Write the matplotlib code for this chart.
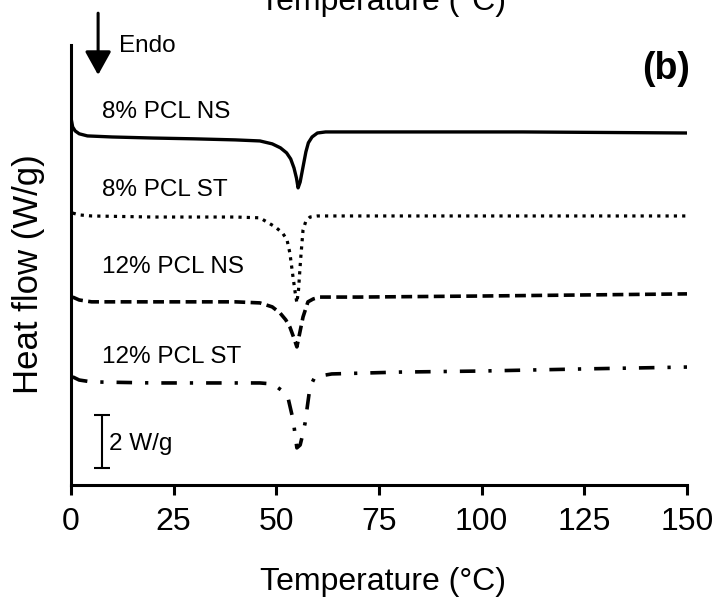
import numpy as np
import matplotlib.pyplot as plt

plt.rcParams['font.family'] = ['Liberation Sans', 'DejaVu Sans']

# DSC curves, heat flow in W/g (curves shifted vertically)
temp_ns8 = [0, 0.4, 1, 2, 4, 10, 20, 30, 40, 46, 49, 51, 52.5, 53.5, 54.3, 54.9,
            55.3, 55.8, 56.5, 57.2, 57.8, 58.7, 60, 62, 80, 110, 150]
flow_ns8 = [13.85, 13.51, 13.36, 13.25, 13.17, 13.13, 13.09, 13.06, 13.02, 12.98,
            12.87, 12.72, 12.53, 12.30, 11.96, 11.58, 11.21, 11.43, 12.00, 12.57,
            12.91, 13.13, 13.28, 13.32, 13.32, 13.32, 13.28]

temp_st8 = [0.4, 2, 5, 20, 40, 46, 49.7, 51.5, 52.6, 53.3, 54.0, 54.6, 55.0, 55.4,
            55.9, 56.5, 57.2, 58.2, 60, 80, 110, 150]
flow_st8 = [10.26, 10.19, 10.15, 10.11, 10.11, 10.08, 9.74, 9.51, 9.25, 8.75, 7.92,
            7.25, 6.87, 7.36, 8.49, 9.62, 9.96, 10.11, 10.15, 10.15, 10.15, 10.15]

temp_ns12 = [0.4, 2, 5, 20, 40, 46, 49, 50.9, 52.3, 53.3, 54.2, 55.0, 55.6, 56.5,
             57.7, 59, 60.6, 70, 100, 125, 150]
flow_ns12 = [7.09, 6.98, 6.91, 6.91, 6.91, 6.87, 6.72, 6.49, 6.23, 5.96, 5.58, 5.21,
             5.66, 6.34, 6.91, 7.02, 7.09, 7.09, 7.13, 7.17, 7.21]

temp_st12 = [0.4, 2, 5, 20, 40, 46, 49.2, 51.2, 52.8, 54.1, 55.0, 55.8, 56.4, 57.0,
             57.6, 58.2, 59.4, 63.5, 80, 100, 125, 150]
flow_st12 = [4.08, 3.96, 3.89, 3.85, 3.85, 3.85, 3.81, 3.58, 3.32, 2.45, 1.40, 1.51,
             1.89, 2.34, 3.02, 3.70, 4.08, 4.19, 4.26, 4.30, 4.38, 4.45]

nombres = ['8% PCL NS', '8% PCL ST', '12% PCL NS', '12% PCL ST']
y_nombres = [13.85, 10.9, 8.0, 4.6]
x_ticks = [0, 25, 50, 75, 100, 125, 150]

fig = plt.figure(figsize=(7.18, 6.01), dpi=100)
ax = fig.add_axes([71 / 718, 1 - 485 / 601, 616 / 718, 440 / 601])

ax.plot(temp_ns8, flow_ns8, color='black', lw=2.4, solid_capstyle='butt')
ax.plot(temp_st8, flow_st8, color='black', lw=2.3, linestyle=(0, (1, 1.6)))
ax.plot(temp_ns12, flow_ns12, color='black', lw=2.6, linestyle=(0, (3.0, 1.5)))
ax.plot(temp_st12, flow_st12, color='black', lw=2.6,
        linestyle=(0, (4.3, 3.6, 0.9, 3.6)))

for nombre, yn in zip(nombres, y_nombres):
    ax.text(7.5, yn, nombre, fontsize=17.5, va='baseline', ha='left')

# escala 2 W/g
ax.errorbar([7.5], [1.64], yerr=[[1.0], [1.0]], color='black', lw=1.5,
            capsize=6, capthick=1.5)
ax.text(9.3, 1.55, '2 W/g', fontsize=17.5, va='center', ha='left')

# flecha endo
ax.annotate('', xy=(6.6, 15.47), xytext=(6.6, 17.8), annotation_clip=False,
            arrowprops=dict(arrowstyle='-|>,head_length=0.72,head_width=0.4',
                            lw=2.2, color='black', mutation_scale=20,
                            shrinkA=0, shrinkB=0))
ax.text(11.7, 16.34, 'Endo', fontsize=17.5, va='baseline', ha='left', clip_on=False)
ax.text(150.8, 15.3, '(b)', fontsize=27, fontweight='bold', va='baseline',
        ha='right', clip_on=False)

ax.set_xlim(0, 150)
ax.set_ylim(0, 16.6)
ax.set_xticks(x_ticks)
ax.set_yticks([])
ax.tick_params(axis='x', direction='out', length=7, width=2.2, pad=9, labelsize=23)
for lado in ['top', 'right']:
    ax.spines[lado].set_visible(False)
for lado in ['left', 'bottom']:
    ax.spines[lado].set_linewidth(2.2)

ax.set_xlabel('Temperature (°C)', fontsize=23)
ax.xaxis.set_label_coords(0.506, -0.186)
ax.set_ylabel('Heat flow (W/g)', fontsize=25)
ax.yaxis.set_label_coords(-0.042, 0.48)

# etiqueta cortada del panel superior
fig.text(383 / 718, 1 - 10 / 601, 'Temperature (°C)', fontsize=23,
         ha='center', va='baseline')

plt.savefig('out.png', dpi=100)
